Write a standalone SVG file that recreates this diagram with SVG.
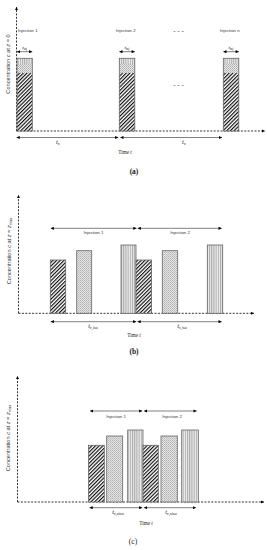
<svg xmlns="http://www.w3.org/2000/svg" width="267" height="550" viewBox="0 0 267 550">
<style>
.ax{stroke:#000;stroke-width:0.8;stroke-dasharray:2 1.4;fill:none}
.dim{stroke:#000;stroke-width:0.5;fill:none}
.bar{stroke:#666;stroke-width:0.8}
.lab{font-family:"Liberation Sans",Arial,sans-serif;font-size:4.3px;fill:#333}
.ser{font-family:"Liberation Serif","Times New Roman",serif;fill:#222}
.yl{font-family:"Liberation Sans",Arial,sans-serif;font-size:5.6px;fill:#333}
</style>
<defs>
<marker id="ah" viewBox="0 0 6 6" refX="6" refY="3" markerUnits="userSpaceOnUse" markerWidth="3.6" markerHeight="3.2" orient="auto-start-reverse"><path d="M0,0L6,3L0,6z" fill="#000"/></marker>
<pattern id="hatch" patternUnits="userSpaceOnUse" width="2.6" height="2.6" patternTransform="rotate(45)"><rect width="2.6" height="2.6" fill="#fff"/><line x1="0.6" y1="0" x2="0.6" y2="2.6" stroke="#000" stroke-width="1.1"/></pattern>
<pattern id="dots" patternUnits="userSpaceOnUse" width="2" height="2"><rect width="2" height="2" fill="#e4e4e4"/><rect width="1" height="1" fill="#b0b0b0"/><rect x="1" y="1" width="1" height="1" fill="#c4c4c4"/></pattern>
<pattern id="vs" patternUnits="userSpaceOnUse" width="2.2" height="2"><rect width="2.2" height="2" fill="#eee"/><line x1="0.6" y1="0" x2="0.6" y2="2" stroke="#777" stroke-width="0.7"/></pattern>
</defs>

<!-- Panel (a) -->
<g id="axes-a">
<line class="ax" x1="16.5" y1="131" x2="16.5" y2="7" marker-end="url(#ah)"/>
<line class="ax" x1="16.5" y1="131" x2="265" y2="131" marker-end="url(#ah)"/>
</g>
<g id="bar-a1">
<rect x="17" y="58.3" width="15.3" height="5.7" fill="url(#vs)"/>
<rect x="17" y="64" width="15.3" height="9" fill="url(#dots)"/>
<rect x="17" y="73" width="15.3" height="58" fill="url(#hatch)"/>
<rect class="bar" x="17" y="58.3" width="15.3" height="72.7" fill="none"/>
</g>
<g id="bar-a2">
<rect x="119.3" y="58.3" width="15.5" height="5.7" fill="url(#vs)"/>
<rect x="119.3" y="64" width="15.5" height="9" fill="url(#dots)"/>
<rect x="119.3" y="73" width="15.5" height="58" fill="url(#hatch)"/>
<rect class="bar" x="119.3" y="58.3" width="15.5" height="72.7" fill="none"/>
</g>
<g id="bar-a3">
<rect x="223.3" y="58.3" width="15.5" height="5.7" fill="url(#vs)"/>
<rect x="223.3" y="64" width="15.5" height="9" fill="url(#dots)"/>
<rect x="223.3" y="73" width="15.5" height="58" fill="url(#hatch)"/>
<rect class="bar" x="223.3" y="58.3" width="15.5" height="72.7" fill="none"/>
</g>
<g id="labels-a">
<text class="lab" x="18" y="32">Injection 1</text>
<text class="lab" x="116" y="32">Injection 2</text>
<text class="lab" x="220" y="32">Injection n</text>
<text class="ser" x="178.5" y="33" font-size="7" text-anchor="middle">- - -</text>
<text class="ser" x="178.5" y="87" font-size="7" text-anchor="middle">- - -</text>
<text class="ser" x="24.6" y="49" font-size="5" text-anchor="middle"><tspan font-style="italic">t</tspan><tspan font-size="3.3" dy="0.8">inj</tspan></text>
<text class="ser" x="127" y="49" font-size="5" text-anchor="middle"><tspan font-style="italic">t</tspan><tspan font-size="3.3" dy="0.8">inj</tspan></text>
<text class="ser" x="231" y="49" font-size="5" text-anchor="middle"><tspan font-style="italic">t</tspan><tspan font-size="3.3" dy="0.8">inj</tspan></text>
<text class="ser" x="58" y="144" font-size="6.5" text-anchor="middle"><tspan font-style="italic">t</tspan><tspan font-size="4.5" dy="1">c</tspan></text>
<text class="ser" x="184" y="144" font-size="6.5" text-anchor="middle"><tspan font-style="italic">t</tspan><tspan font-size="4.5" dy="1">c</tspan></text>
<text class="ser" x="125" y="154" font-size="5.2" text-anchor="middle">Time <tspan font-style="italic">t</tspan></text>
<text class="ser" x="134" y="174" font-size="7.5" font-weight="bold" text-anchor="middle">(a)</text>
<text class="yl" transform="translate(9.5,64) rotate(-90)" text-anchor="middle">Concentration <tspan font-style="italic">c</tspan> at <tspan font-style="italic">z</tspan> = 0</text>
</g>
<g id="connectors-a">
<line class="dim" x1="17" y1="51.7" x2="32.3" y2="51.7" marker-start="url(#ah)" marker-end="url(#ah)"/>
<line class="dim" x1="119.3" y1="51.7" x2="134.8" y2="51.7" marker-start="url(#ah)" marker-end="url(#ah)"/>
<line class="dim" x1="223.3" y1="51.7" x2="238.8" y2="51.7" marker-start="url(#ah)" marker-end="url(#ah)"/>
<line class="dim" x1="16.5" y1="137.5" x2="118.3" y2="137.5" marker-start="url(#ah)" marker-end="url(#ah)"/>
<line class="dim" x1="120.3" y1="137.5" x2="222" y2="137.5" marker-start="url(#ah)" marker-end="url(#ah)"/>
</g>

<!-- Panel (b) -->
<g id="axes-b">
<line class="ax" x1="18.5" y1="313.3" x2="18.5" y2="195" marker-end="url(#ah)"/>
<line class="ax" x1="18.5" y1="313.3" x2="254" y2="313.3" marker-end="url(#ah)"/>
</g>
<g id="bar-b1"><rect class="bar" x="50.3" y="260" width="15.4" height="53.3" fill="url(#hatch)"/></g>
<g id="bar-b2"><rect class="bar" x="76.7" y="250.7" width="15" height="62.6" fill="url(#dots)"/></g>
<g id="bar-b3"><rect class="bar" x="121" y="245" width="15" height="68.3" fill="url(#vs)"/></g>
<g id="bar-b4"><rect class="bar" x="136" y="260" width="15.6" height="53.3" fill="url(#hatch)"/></g>
<g id="bar-b5"><rect class="bar" x="162.3" y="250.7" width="15.4" height="62.6" fill="url(#dots)"/></g>
<g id="bar-b6"><rect class="bar" x="207.3" y="245" width="15.4" height="68.3" fill="url(#vs)"/></g>
<g id="labels-b">
<text class="lab" x="93.5" y="234" text-anchor="middle">Injection 1</text>
<text class="lab" x="180" y="234" text-anchor="middle">Injection 2</text>
<text class="ser" x="93" y="328" font-size="6.5" text-anchor="middle"><tspan font-style="italic">t</tspan><tspan font-size="4.2" dy="1">c,iso</tspan></text>
<text class="ser" x="182" y="328" font-size="6.5" text-anchor="middle"><tspan font-style="italic">t</tspan><tspan font-size="4.2" dy="1">c,iso</tspan></text>
<text class="ser" x="134" y="337" font-size="5.2" text-anchor="middle">Time <tspan font-style="italic">t</tspan></text>
<text class="ser" x="134" y="354" font-size="7.5" font-weight="bold" text-anchor="middle">(b)</text>
<text class="yl" transform="translate(11,251) rotate(-90)" text-anchor="middle">Concentration <tspan font-style="italic">c</tspan> at <tspan font-style="italic">z</tspan> = <tspan font-style="italic">z</tspan><tspan font-size="4" dy="1">max</tspan></text>
</g>
<g id="connectors-b">
<line class="dim" x1="50.7" y1="228.3" x2="136.5" y2="228.3" marker-start="url(#ah)" marker-end="url(#ah)"/>
<line class="dim" x1="137.7" y1="228.3" x2="221.7" y2="228.3" marker-start="url(#ah)" marker-end="url(#ah)"/>
<line class="dim" x1="50.7" y1="321.7" x2="136.3" y2="321.7" marker-start="url(#ah)" marker-end="url(#ah)"/>
<line class="dim" x1="137.5" y1="321.7" x2="221.7" y2="321.7" marker-start="url(#ah)" marker-end="url(#ah)"/>
</g>

<!-- Panel (c) -->
<g id="axes-c">
<line class="ax" x1="17.5" y1="502" x2="17.5" y2="376" marker-end="url(#ah)"/>
<line class="ax" x1="17.5" y1="502" x2="264" y2="502" marker-end="url(#ah)"/>
</g>
<g id="bar-c1"><rect class="bar" x="88.5" y="445.3" width="15.8" height="56.7" fill="url(#hatch)"/></g>
<g id="bar-c2"><rect class="bar" x="106.7" y="436" width="16" height="66" fill="url(#dots)"/></g>
<g id="bar-c3"><rect class="bar" x="127.7" y="430" width="15.3" height="72" fill="url(#vs)"/></g>
<g id="bar-c4"><rect class="bar" x="143" y="445.3" width="15.3" height="56.7" fill="url(#hatch)"/></g>
<g id="bar-c5"><rect class="bar" x="161" y="436" width="16.3" height="66" fill="url(#dots)"/></g>
<g id="bar-c6"><rect class="bar" x="181.7" y="430" width="16.6" height="72" fill="url(#vs)"/></g>
<g id="labels-c">
<text class="lab" x="116" y="418" text-anchor="middle">Injection 1</text>
<text class="lab" x="172" y="418" text-anchor="middle">Injection 2</text>
<text class="ser" x="118" y="513.5" font-size="6.5" text-anchor="middle"><tspan font-style="italic">t</tspan><tspan font-size="4.2" dy="1">c,niso</tspan></text>
<text class="ser" x="171" y="513.5" font-size="6.5" text-anchor="middle"><tspan font-style="italic">t</tspan><tspan font-size="4.2" dy="1">c,niso</tspan></text>
<text class="ser" x="146" y="525" font-size="5.2" text-anchor="middle">Time <tspan font-style="italic">t</tspan></text>
<text class="ser" x="133" y="544" font-size="7.5" text-anchor="middle">(c)</text>
<text class="yl" transform="translate(10,438) rotate(-90)" text-anchor="middle">Concentration <tspan font-style="italic">c</tspan> at <tspan font-style="italic">z</tspan> = <tspan font-style="italic">z</tspan><tspan font-size="4" dy="1">max</tspan></text>
</g>
<g id="connectors-c">
<line class="dim" x1="90" y1="411" x2="142.3" y2="411" marker-start="url(#ah)" marker-end="url(#ah)"/>
<line class="dim" x1="144" y1="411" x2="196.7" y2="411" marker-start="url(#ah)" marker-end="url(#ah)"/>
<line class="dim" x1="89.5" y1="507.7" x2="142.3" y2="507.7" marker-start="url(#ah)" marker-end="url(#ah)"/>
<line class="dim" x1="144" y1="507.7" x2="196" y2="507.7" marker-start="url(#ah)" marker-end="url(#ah)"/>
</g>
</svg>
